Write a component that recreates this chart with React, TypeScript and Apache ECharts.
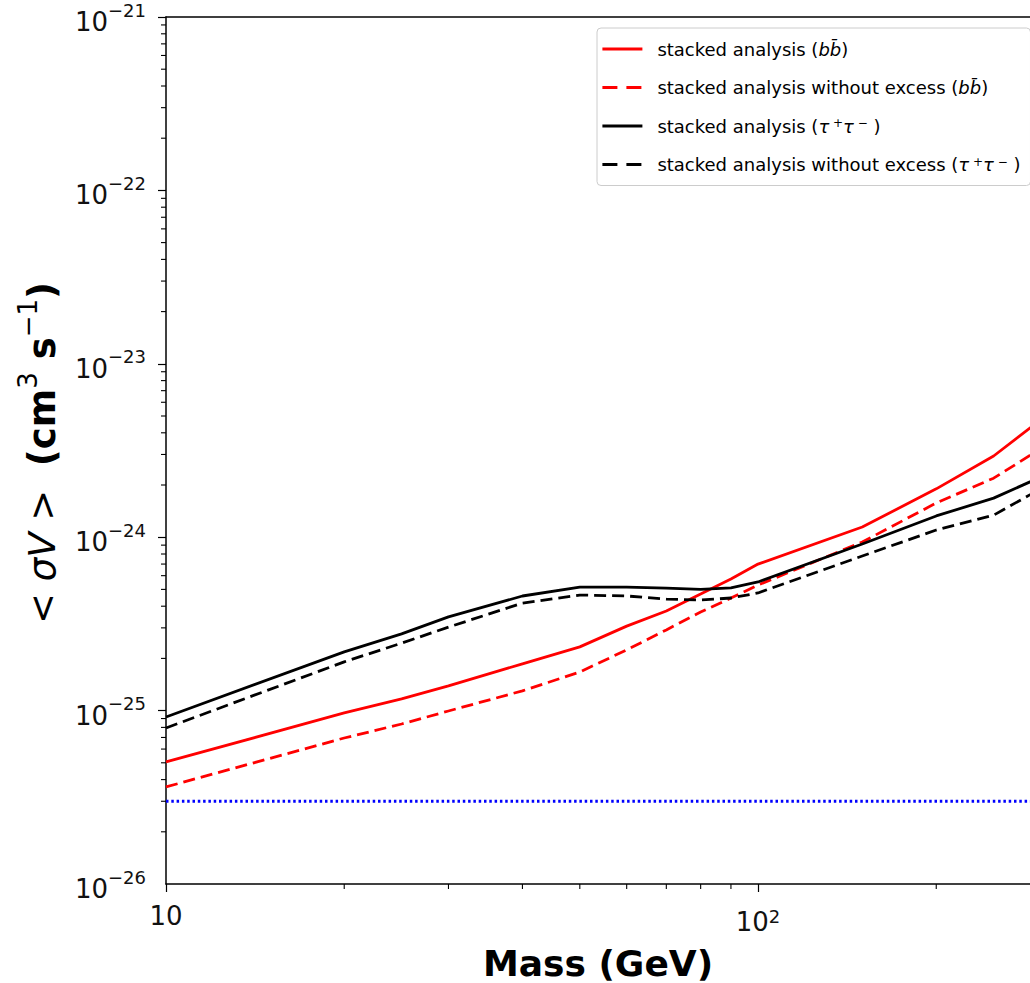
import React, { useEffect, useRef } from "react";
import * as echarts from "echarts";

// Dark-matter mass (GeV)
const masses = [10, 20, 25, 30, 40, 50, 60, 70, 80, 90, 100, 150, 200, 250, 300];
// <sigma v> upper limits (cm^3 s^-1)
const bbStacked = [5.06e-26, 9.69e-26, 1.17e-25, 1.39e-25, 1.86e-25, 2.33e-25, 3.07e-25, 3.75e-25, 4.7e-25, 5.74e-25, 7.0e-25, 1.145e-24, 1.9e-24, 2.94e-24, 4.74e-24];
const bbNoExcess = [3.63e-26, 6.95e-26, 8.37e-26, 9.95e-26, 1.3e-25, 1.67e-25, 2.24e-25, 2.92e-25, 3.7e-25, 4.46e-25, 5.3e-25, 9.38e-25, 1.575e-24, 2.19e-24, 3.23e-24];
const tauStacked = [9.19e-26, 2.18e-25, 2.77e-25, 3.47e-25, 4.58e-25, 5.16e-25, 5.16e-25, 5.09e-25, 5.0e-25, 5.1e-25, 5.52e-25, 9.14e-25, 1.326e-24, 1.68e-24, 2.22e-24];
const tauNoExcess = [7.94e-26, 1.91e-25, 2.45e-25, 3.03e-25, 4.17e-25, 4.64e-25, 4.58e-25, 4.4e-25, 4.34e-25, 4.46e-25, 4.77e-25, 7.79e-25, 1.1e-24, 1.34e-24, 1.9e-24];
const relicMasses = [10, 300];
const relicValue = 3e-26;

const xMin = 10;
const xMax = 288;
const yMin = 1e-26;
const yMax = 1e-21;
const xMinorTicks = [20, 30, 40, 50, 60, 70, 80, 90, 200];
const yDecades = [-26, -25, -24, -23, -22];
const yLabelExponents = [-26, -25, -24, -23, -22, -21];
const yMinorMultipliers = [2, 3, 4, 5, 6, 7, 8, 9];

const seriesNames = [
  "stacked analysis (bb̄)",
  "stacked analysis without excess (bb̄)",
  "stacked analysis (τ+τ−)",
  "stacked analysis without excess (τ+τ−)",
];
const legendRich: Record<string, string> = {
  [seriesNames[0]]: "stacked analysis ({i|bb\u0304})",
  [seriesNames[1]]: "stacked analysis without excess ({i|bb\u0304})",
  [seriesNames[2]]: "stacked analysis ({i|τ}{sup| +}{i|τ}{sup| −} )",
  [seriesNames[3]]: "stacked analysis without excess ({i|τ}{sup| +}{i|τ}{sup| −} )",
};
const yTitle = "{m|< }{mi|σV}{m| >}  {b|(cm}{bs|3}{b| s}{bs|−1}{b|)}";
const xTitle = "Mass (GeV)";

const FONT = "DejaVu Sans";

function pairs(xs: number[], ys: number[]) {
  return xs.map((x, i) => [x, ys[i]]);
}

export default function App() {
  const ref = useRef<HTMLDivElement>(null);
  useEffect(() => {
    if (!ref.current) return;
    const chart = echarts.init(ref.current, undefined, { renderer: "svg" });
    const yMinor: number[][] = [];
    yDecades.forEach((d) => yMinorMultipliers.forEach((m) => yMinor.push([xMin, m * Math.pow(10, d)])));
    const xMinor = xMinorTicks.map((x) => [x, yMin]);
    const yLabelData = yLabelExponents.map((e) => [xMin, Math.pow(10, e), e]);

    const tickSeries = (data: number[][], dir: "x" | "y") => ({
      type: "custom",
      silent: true,
      clip: false,
      z: 5,
      data,
      encode: { x: 0, y: 1 },
      renderItem: (_p: any, api: any) => {
        const c = api.coord([api.value(0), api.value(1)]);
        const shape =
          dir === "y"
            ? { x1: c[0] - 5, y1: c[1], x2: c[0], y2: c[1] }
            : { x1: c[0], y1: c[1], x2: c[0], y2: c[1] + 5 };
        return { type: "line", shape, style: { stroke: "#000", lineWidth: 1.1 } };
      },
    });

    const lineSeries = (name: string, ys: number[], color: string, dashed: boolean) => ({
      name,
      type: "line",
      data: pairs(masses, ys),
      symbol: "none",
      smooth: false,
      z: 3,
      lineStyle: { color, width: 2.8, type: dashed ? [12, 6] : "solid", cap: "butt" },
      itemStyle: { color },
    });

    chart.setOption({
      animation: false,
      backgroundColor: "#fff",
      grid: { left: 166, right: 0, top: 17, bottom: 99, containLabel: false, outerBoundsMode: "none" },
      legend: {
        data: seriesNames.map((n, i) => ({
          name: n,
          lineStyle: i % 2 === 1 ? { type: [15, 9], width: 2.8 } : { width: 2.8 },
        })),
        orient: "vertical",
        left: 597,
        top: 28,
        itemWidth: 40,
        itemHeight: 14,
        itemGap: 20.5,
        padding: [12, 10, 12, 4],
        backgroundColor: "#fff",
        borderColor: "#cccccc",
        borderWidth: 1,
        borderRadius: 4,
        selectedMode: false,
        itemStyle: { opacity: 0 },
        formatter: (name: string) => legendRich[name] || name,
        textStyle: {
          fontFamily: FONT,
          fontSize: 18,
          color: "#000",
          lineHeight: 18,
          padding: [0, 0, 0, 10],
          rich: {
            i: { fontFamily: FONT, fontSize: 18, fontStyle: "italic", color: "#000", lineHeight: 18 },
            sup: { fontFamily: FONT, fontSize: 12, color: "#000", lineHeight: 12, verticalAlign: "top" },
          },
        },
      },
      graphic: [
        {
          type: "text",
          x: 38,
          y: 453,
          rotation: Math.PI / 2,
          silent: true,
          style: {
            text: yTitle,
            align: "center",
            verticalAlign: "middle",
            fill: "#000",
            fontFamily: FONT,
            fontSize: 37,
            rich: {
              m: { fontFamily: FONT, fontSize: 37, fill: "#000", lineHeight: 46, verticalAlign: "bottom" },
              mi: { fontFamily: FONT, fontSize: 37, fontStyle: "italic", fill: "#000", lineHeight: 46, verticalAlign: "bottom" },
              b: { fontFamily: FONT, fontSize: 37, fontWeight: "bold", fill: "#000", lineHeight: 46, verticalAlign: "bottom" },
              bs: { fontFamily: FONT, fontSize: 26, fill: "#000", lineHeight: 26, verticalAlign: "top" },
            },
          },
        },
      ],
      xAxis: [
        {
          type: "log",
          logBase: 10,
          min: xMin,
          max: xMax,
          position: "bottom",
          name: xTitle,
          nameLocation: "middle",
          nameGap: 61,
          nameTextStyle: { fontFamily: FONT, fontSize: 36, fontWeight: "bold", color: "#000" },
          axisLine: { show: true, lineStyle: { color: "#000", width: 1.5 } },
          axisTick: { show: true, length: 8, lineStyle: { color: "#000", width: 1.2 } },
          splitLine: { show: false },
          minorTick: { show: false },
          axisLabel: {
            margin: 11,
            showMaxLabel: false,
            showMinLabel: true,
            hideOverlap: false,
            formatter: (v: number) => {
              const e = Math.round(Math.log10(v));
              if (Math.abs(Math.pow(10, e) - v) / v > 1e-6) return "";
              return e === 1 ? "{b|10}" : `{b2|10}{s2|${e}}`;
            },
            rich: {
              b: { fontFamily: FONT, fontSize: 26, lineHeight: 34, color: "#111", verticalAlign: "bottom" },
              b2: { fontFamily: FONT, fontSize: 26, lineHeight: 40, color: "#111", verticalAlign: "bottom" },
              s2: { fontFamily: FONT, fontSize: 18, lineHeight: 18, color: "#111", verticalAlign: "bottom", padding: [0, 0, 10, 0] },
            },
          },
        },
        {
          type: "log",
          logBase: 10,
          min: xMin,
          max: xMax,
          position: "top",
          axisLine: { show: true, lineStyle: { color: "#000", width: 1.5 } },
          axisTick: { show: false },
          axisLabel: { show: false },
          splitLine: { show: false },
        },
      ],
      yAxis: {
        type: "log",
        logBase: 10,
        min: yMin,
        max: yMax,
        axisLine: { show: true, lineStyle: { color: "#000", width: 1.5 } },
        axisTick: { show: true, length: 8, lineStyle: { color: "#000", width: 1.2 } },
        splitLine: { show: false },
        axisLabel: { show: false },
      },
      series: [
        lineSeries(seriesNames[0], bbStacked, "#ff0000", false),
        lineSeries(seriesNames[1], bbNoExcess, "#ff0000", true),
        lineSeries(seriesNames[2], tauStacked, "#000000", false),
        lineSeries(seriesNames[3], tauNoExcess, "#000000", true),
        {
          name: "thermal relic",
          type: "line",
          data: relicMasses.map((m) => [m, relicValue]),
          symbol: "none",
          z: 2,
          lineStyle: { color: "#0000ff", width: 3, type: [2.5, 2.8], cap: "butt" },
        },
        tickSeries(yMinor, "y"),
        tickSeries(xMinor, "x"),
        {
          type: "custom",
          silent: true,
          clip: false,
          z: 6,
          data: yLabelData,
          encode: { x: 0, y: 1 },
          renderItem: (_p: any, api: any) => {
            const c = api.coord([api.value(0), api.value(1)]);
            const e = api.value(2);
            const exp = e < 0 ? "\u2212" + Math.abs(e) : String(e);
            return {
              type: "text",
              x: c[0] - 20,
              y: c[1] + 1,
              style: {
                text: `{b|10}{s|${exp}}`,
                align: "right",
                verticalAlign: "middle",
                fill: "#111",
                fontFamily: FONT,
                fontSize: 26,
                rich: {
                  b: { fontFamily: FONT, fontSize: 26, lineHeight: 34, fill: "#111", verticalAlign: "bottom" },
                  s: { fontFamily: FONT, fontSize: 18, lineHeight: 18, fill: "#111", verticalAlign: "top" },
                },
              },
            };
          },
        },
      ],
    } as any);
    return () => chart.dispose();
  }, []);
  return <div ref={ref} style={{ position: "fixed", left: 0, top: 0, width: 1030, height: 983 }} />;
}
